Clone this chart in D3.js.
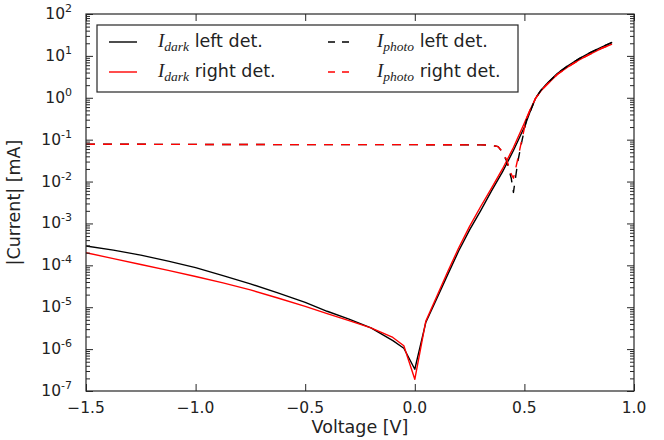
<!DOCTYPE html>
<html>
<head>
<meta charset="utf-8">
<script src="https://cdn.jsdelivr.net/npm/d3@7"></script>
<style>
  body { margin: 0; background: #fff; }
  text { font-family: "DejaVu Sans", sans-serif; fill: #222; }
</style>
</head>
<body>
<div id="chart"></div>
<script>
// voltage [V] and |current| [mA]
const darkV = [-1.5, -1.375, -1.25, -1.125, -1.0, -0.875, -0.75, -0.625, -0.5, -0.4, -0.3, -0.2, -0.1, -0.05, 0, 0.05, 0.1, 0.15, 0.2, 0.25, 0.3, 0.35, 0.4, 0.45, 0.5, 0.525, 0.55, 0.575, 0.6, 0.65, 0.7, 0.75, 0.8, 0.85, 0.9];
const darkLeft = [2.9e-4, 2.3e-4, 1.75e-4, 1.26e-4, 8.8e-5, 5.7e-5, 3.6e-5, 2.2e-5, 1.3e-5, 8e-6, 5.2e-6, 3.2e-6, 1.6e-6, 1.05e-6, 3.3e-7, 4.3e-6, 1.6e-5, 6e-5, 2.2e-4, 7e-4, 2.0e-3, 6e-3, 1.7e-2, 5.5e-2, 0.2, 0.45, 0.95, 1.5, 2.1, 3.8, 5.9, 8.6, 12, 16, 21];
const darkRight = [2.0e-4, 1.45e-4, 1.05e-4, 7.6e-5, 5.4e-5, 3.8e-5, 2.6e-5, 1.66e-5, 1.05e-5, 7e-6, 4.8e-6, 3.2e-6, 1.9e-6, 1.2e-6, 1.9e-7, 4.6e-6, 1.8e-5, 7e-5, 2.6e-4, 8.5e-4, 2.5e-3, 7e-3, 2.0e-2, 6.5e-2, 0.25, 0.5, 0.95, 1.45, 2.0, 3.6, 5.5, 8.0, 11, 15, 19];

const photoV = [-1.5, -1.0, -0.5, 0, 0.3, 0.35, 0.38, 0.40, 0.42, 0.44, 0.45, 0.47, 0.49, 0.51, 0.525, 0.55, 0.575, 0.6, 0.65, 0.7, 0.75, 0.8, 0.85, 0.9];
const photoLeft = [0.078, 0.077, 0.076, 0.076, 0.075, 0.074, 0.068, 0.05, 0.03, 0.012, 0.0055, 0.03, 0.1, 0.3, 0.45, 0.95, 1.5, 2.1, 3.8, 5.9, 8.6, 12, 16, 21];
const photoRight = [0.078, 0.077, 0.076, 0.076, 0.075, 0.074, 0.068, 0.052, 0.032, 0.015, 0.012, 0.035, 0.11, 0.32, 0.5, 0.95, 1.45, 2.0, 3.6, 5.5, 8.0, 11, 15, 19];

const xTicks = [-1.5, -1.0, -0.5, 0.0, 0.5, 1.0];
const yExps = [-7, -6, -5, -4, -3, -2, -1, 0, 1, 2];

const series = [
  { name: "left det.", sub: "dark", v: darkV, y: darkLeft, color: "#000", dash: null },
  { name: "right det.", sub: "dark", v: darkV, y: darkRight, color: "#ff0000", dash: null },
  { name: "left det.", sub: "photo", v: photoV, y: photoLeft, color: "#000", dash: "9,8" },
  { name: "right det.", sub: "photo", v: photoV, y: photoRight, color: "#ff0000", dash: "9,8" }
];

let margin = { top: 14, right: 30, bottom: 49, left: 86 },
    width = 664 - margin.left - margin.right,
    height = 440 - margin.top - margin.bottom;

let x = d3.scaleLinear().domain([-1.5, 1.0]).range([0, width]);
let y = d3.scaleLog().domain([1e-7, 1e2]).range([height, 0]);

let svg = d3.select("#chart").append("svg")
    .attr("width", width + margin.left + margin.right)
    .attr("height", height + margin.top + margin.bottom)
  .append("g")
    .attr("transform", `translate(${margin.left},${margin.top})`);

let line = d3.line()
    .x(d => x(d[0]))
    .y(d => y(d[1]));

svg.append("clipPath").attr("id", "clip")
  .append("rect").attr("width", width).attr("height", height);

let plot = svg.append("g").attr("clip-path", "url(#clip)");
series.forEach(s => {
  plot.append("path")
      .datum(d3.zip(s.v, s.y))
      .attr("fill", "none")
      .attr("stroke", s.color)
      .attr("stroke-width", 1.4)
      .attr("stroke-linejoin", "round")
      .attr("stroke-dasharray", s.dash)
      .attr("d", line);
});

// minor + major log ticks, inside, both sides
let minor = [];
for (let e = -7; e < 2; e++) for (let m = 2; m <= 9; m++) minor.push(m * Math.pow(10, e));
const axisCol = "#262626";

let yAxisL = d3.axisLeft(y).tickValues(yExps.map(e => Math.pow(10, e))).tickSize(-7).tickFormat("");
let yAxisR = d3.axisRight(y).tickValues(yExps.map(e => Math.pow(10, e))).tickSize(-7).tickFormat("");
let yMinorL = d3.axisLeft(y).tickValues(minor).tickSize(-4).tickFormat("");
let yMinorR = d3.axisRight(y).tickValues(minor).tickSize(-4).tickFormat("");
let xAxisB = d3.axisBottom(x).tickValues(xTicks).tickSize(-7).tickFormat("");
let xAxisT = d3.axisTop(x).tickValues(xTicks).tickSize(-7).tickFormat("");

const noDomain = g => g.call(g => g.select(".domain").remove())
    .call(g => g.selectAll(".tick line").attr("stroke", axisCol));

svg.append("g").call(yAxisL).call(noDomain);
svg.append("g").call(yMinorL).call(noDomain);
svg.append("g").attr("transform", `translate(${width},0)`).call(yAxisR).call(noDomain);
svg.append("g").attr("transform", `translate(${width},0)`).call(yMinorR).call(noDomain);
svg.append("g").attr("transform", `translate(0,${height})`).call(xAxisB).call(noDomain);
svg.append("g").call(xAxisT).call(noDomain);

svg.append("rect")
    .attr("width", width).attr("height", height)
    .attr("fill", "none").attr("stroke", axisCol).attr("stroke-width", 1.2);

// tick labels
svg.append("g").selectAll("text")
  .data(xTicks)
  .join("text")
    .attr("x", d => x(d))
    .attr("y", height + 22)
    .attr("text-anchor", "middle")
    .attr("font-size", 15.5)
    .text(d => d3.format(".1f")(d));

let yl = svg.append("g").selectAll("text")
  .data(yExps)
  .join("text")
    .attr("x", -14)
    .attr("y", d => y(Math.pow(10, d)) + 5)
    .attr("text-anchor", "end")
    .attr("font-size", 15.5);
yl.append("tspan").text("10");
yl.append("tspan").attr("font-size", 11).attr("dy", -7).text(d => String(d));

// axis labels
svg.append("text")
    .attr("x", width / 2)
    .attr("y", height + 42)
    .attr("text-anchor", "middle")
    .attr("font-size", 17.5)
    .text("Voltage [V]");

svg.append("text")
    .attr("transform", `translate(${-66},${height / 2}) rotate(-90)`)
    .attr("text-anchor", "middle")
    .attr("font-size", 17.5)
    .text("|Current| [mA]");

// legend
let lg = svg.append("g").attr("transform", "translate(11,11)");
lg.append("rect")
    .attr("width", 421).attr("height", 67)
    .attr("fill", "#fff").attr("stroke", axisCol).attr("stroke-width", 1.2);

series.forEach((s, i) => {
  let col = Math.floor(i / 2), row = i % 2;
  let g = lg.append("g").attr("transform", `translate(${12 + col * 219},${17 + row * 30})`);
  g.append("line")
      .attr("x1", 0).attr("x2", 28)
      .attr("stroke", s.color).attr("stroke-width", 1.4)
      .attr("stroke-dasharray", s.dash ? "7,7" : null);
  let t = g.append("text").attr("x", 49).attr("y", 5).attr("font-size", 17.5);
  t.append("tspan")
      .attr("font-family", "'Liberation Serif', serif").attr("font-style", "italic")
      .attr("font-size", 19).text("I");
  t.append("tspan")
      .attr("font-family", "'Liberation Serif', serif").attr("font-style", "italic")
      .attr("font-size", 13.5).attr("dy", 4).text(s.sub);
  t.append("tspan").attr("dy", -4).text(" " + s.name);
});
</script>
</body>
</html>
